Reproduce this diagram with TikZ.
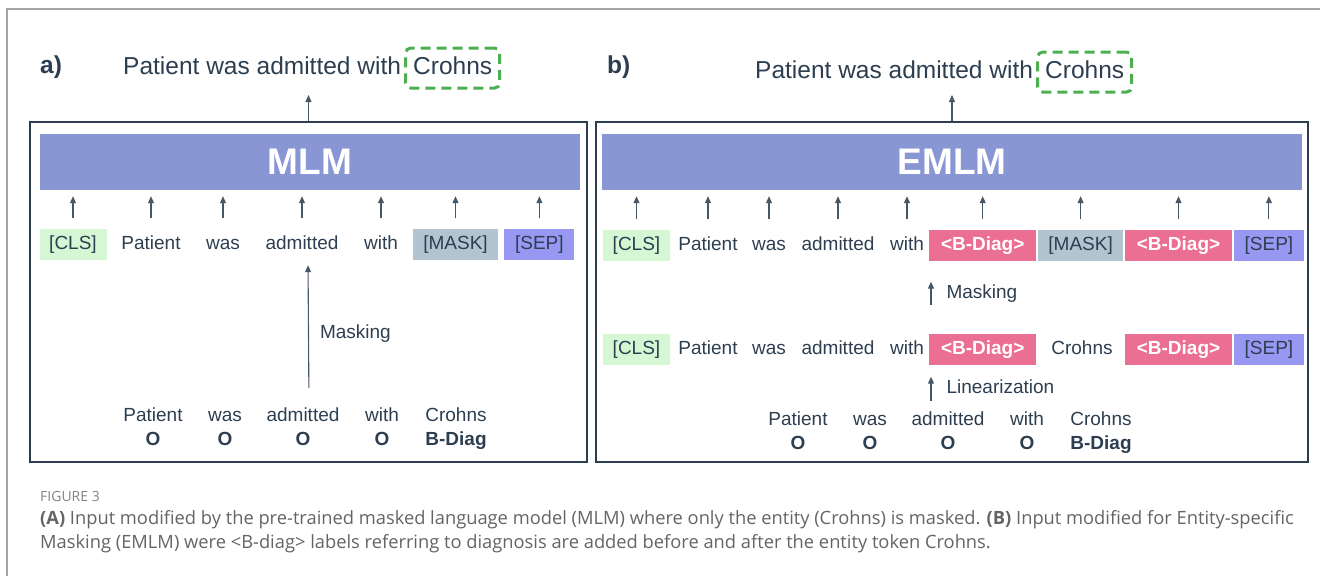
\documentclass[tikz,border=0pt]{standalone}
\usepackage{fontspec}
\setmainfont{Liberation Sans}
\newfontfamily\capfont{Open Sans}
\usetikzlibrary{positioning,arrows.meta}
\definecolor{inkdark}{RGB}{44,62,80}
\definecolor{arrowgray}{RGB}{70,88,104}
\definecolor{barblue}{RGB}{136,150,212}
\definecolor{clsgreen}{RGB}{214,247,212}
\definecolor{maskgray}{RGB}{178,196,208}
\definecolor{seppurple}{RGB}{152,152,242}
\definecolor{diagpink}{RGB}{235,110,147}
\definecolor{entgreen}{RGB}{76,175,80}
\definecolor{pagegray}{RGB}{165,165,165}
\definecolor{capgray}{RGB}{100,100,100}
\tikzset{
  word/.style={inner sep=0pt, text=inkdark, font=\fontsize{19}{23}\selectfont, text height=14pt, text depth=4pt},
  tok/.style={word, minimum height=31pt},
  tokbox/.style={tok, inner xsep=9pt},
  clsbox/.style={tokbox, fill=clsgreen, minimum width=67pt},
  maskbox/.style={tokbox, fill=maskgray, minimum width=85pt},
  sepbox/.style={tokbox, fill=seppurple, minimum width=70pt},
  diagbox/.style={tokbox, fill=diagpink, text=white, font=\fontsize{19}{23}\selectfont\bfseries, minimum width=107pt},
  tag/.style={word, font=\fontsize{19}{23}\selectfont\bfseries},
  bar/.style={fill=barblue, text=white, font=\fontsize{37}{40}\selectfont\bfseries, minimum height=56pt, inner sep=0pt},
  panel/.style={draw=inkdark, line width=1.5pt, minimum height=340pt, inner sep=0pt},
  headline/.style={inner sep=0pt, text=inkdark, font=\fontsize{24.5}{28}\selectfont, text height=17pt, text depth=5pt},
  panellabel/.style={headline, font=\fontsize{24.5}{28}\selectfont\bfseries, anchor=west},
  entity/.style={headline, draw=entgreen, line width=3pt, dash pattern=on 10pt off 6pt, rounded corners=5pt, inner xsep=7.5pt, minimum height=40pt},
  uparrow/.style={draw=arrowgray, line width=1.1pt, -{Triangle[length=7pt,width=6pt]}},
  feed/.style={uparrow, shorten <=10pt, shorten >=6pt},
  note/.style={word, anchor=west},
  capline/.style={inner sep=0pt, anchor=west, text=capgray, font=\capfont\fontsize{18.3}{22}\selectfont},
}

\begin{document}
\begin{tikzpicture}[x=1pt, y=-1pt]
  \useasboundingbox (0,0) rectangle (1320,576);
  \draw[pagegray, line width=2pt] (7,576) -- (7,9) -- (1320,9);

  % a) MLM
  \node[panel, minimum width=557pt] (panell) at (308.5,292) {};
  \node[bar, minimum width=540pt] (mlm) at (310,162) {MLM};
  \node[panellabel] (labl) at (40,67) {a)};
  \node[headline, anchor=west] (titlel) at (123,68) {Patient was admitted with};
  \node[entity, right=3pt of titlel] (entl) {Crohns};
  \coordinate (outl) at (308.5,95);
  \draw[uparrow] (panell.north) -- (outl);

  \node[clsbox] (clsl) at (73,244) {[CLS]};
  \node[tok] (patl) at (151,244) {Patient};
  \node[tok] (wasl) at (223,244) {was};
  \node[tok] (adml) at (302,244) {admitted};
  \node[tok] (withl) at (381,244) {with};
  \node[maskbox] (maskl) at (455.5,244) {[MASK]};
  \node[sepbox, right=6pt of maskl] (sepl) {[SEP]};

  \draw[feed] (clsl.north) -- (clsl.north |- mlm.south);
  \draw[feed] (patl.north) -- (patl.north |- mlm.south);
  \draw[feed] (wasl.north) -- (wasl.north |- mlm.south);
  \draw[feed] (adml.north) -- (adml.north |- mlm.south);
  \draw[feed] (withl.north) -- (withl.north |- mlm.south);
  \draw[feed] (maskl.north) -- (maskl.north |- mlm.south);
  \draw[feed] (sepl.north) -- (sepl.north |- mlm.south);

  \node[word] (srcpatl) at (153,416) {Patient};
  \node[word] (srcwasl) at (225,416) {was};
  \node[word] (srcadml) at (303,416) {admitted};
  \node[word] (srcwithl) at (382,416) {with};
  \node[word] (srccrol) at (456,416) {Crohns};
  \node[tag, below=6pt of srcpatl] (tpatl) {O};
  \node[tag, below=6pt of srcwasl] (twasl) {O};
  \node[tag, below=6pt of srcadml] (tadml) {O};
  \node[tag, below=6pt of srcwithl] (twithl) {O};
  \node[tag, below=6pt of srccrol] (tcrol) {B-Diag};

  \draw[uparrow, shorten <=19pt, shorten >=5.5pt] ([xshift=6pt]srcadml.north) -- ([xshift=6pt]adml.south)
    node[note, midway, right=11pt] {Masking};

  % b) EMLM
  \node[panel, minimum width=712pt] (panelr) at (952,292) {};
  \node[bar, minimum width=700pt] (emlm) at (952,162) {EMLM};
  \node[panellabel] (labr) at (607,67) {b)};
  \node[headline, anchor=west] (titler) at (755,72) {Patient was admitted with};
  \node[entity, right=3pt of titler] (entr) {Crohns};
  \coordinate (outr) at (952,95);
  \draw[uparrow] (panelr.north) -- (outr);

  \node[clsbox] (clsr) at (636.5,245) {[CLS]};
  \node[tok] (patr) at (708,245) {Patient};
  \node[tok] (wasr) at (769,245) {was};
  \node[tok] (admr) at (838,245) {admitted};
  \node[tok] (withr) at (907,245) {with};
  \node[diagbox, anchor=west] (bdar) at (929,245) {<B-Diag>};
  \node[maskbox, right=1.5pt of bdar] (maskr) {[MASK]};
  \node[diagbox, right=1.5pt of maskr] (bdbr) {<B-Diag>};
  \node[sepbox, right=1.5pt of bdbr] (sepr) {[SEP]};

  \draw[feed] (clsr.north) -- (clsr.north |- emlm.south);
  \draw[feed] (patr.north) -- (patr.north |- emlm.south);
  \draw[feed] (wasr.north) -- (wasr.north |- emlm.south);
  \draw[feed] (admr.north) -- (admr.north |- emlm.south);
  \draw[feed] (withr.north) -- (withr.north |- emlm.south);
  \draw[feed] (bdar.north) -- (bdar.north |- emlm.south);
  \draw[feed] (maskr.north) -- (maskr.north |- emlm.south);
  \draw[feed] (bdbr.north) -- (bdbr.north |- emlm.south);
  \draw[feed] (sepr.north) -- (sepr.north |- emlm.south);

  \node[clsbox] (lclsr) at (636.5,349) {[CLS]};
  \node[tok] (lpatr) at (patr |- lclsr) {Patient};
  \node[tok] (lwasr) at (wasr |- lclsr) {was};
  \node[tok] (ladmr) at (admr |- lclsr) {admitted};
  \node[tok] (lwithr) at (withr |- lclsr) {with};
  \node[diagbox] (lbdar) at (bdar |- lclsr) {<B-Diag>};
  \node[tok] (lcror) at (1082,349) {Crohns};
  \node[diagbox] (lbdbr) at (bdbr |- lclsr) {<B-Diag>};
  \node[sepbox] (lsepr) at (sepr |- lclsr) {[SEP]};

  \draw[uparrow, shorten <=28pt, shorten >=21pt] ([xshift=2pt]lbdar.north west) -- ([xshift=2pt]bdar.south west)
    node[note, pos=0.55, right=15pt] {Masking};

  \coordinate (linr) at (931,401);
  \draw[uparrow, shorten >=12pt] (linr) -- (linr |- lbdar.south)
    node[note, pos=0.35, right=15pt] {Linearization};

  \node[word] (srcpatr) at (798,420) {Patient};
  \node[word] (srcwasr) at (870,420) {was};
  \node[word] (srcadmr) at (948,420) {admitted};
  \node[word] (srcwithr) at (1027,420) {with};
  \node[word] (srccror) at (1101,420) {Crohns};
  \node[tag, below=6pt of srcpatr] (tpatr) {O};
  \node[tag, below=6pt of srcwasr] (twasr) {O};
  \node[tag, below=6pt of srcadmr] (tadmr) {O};
  \node[tag, below=6pt of srcwithr] (twithr) {O};
  \node[tag, below=6pt of srccror] (tcror) {B-Diag};

  % caption
  \node[capline, font=\capfont\fontsize{14}{16}\selectfont, text=capgray!80] (figno) at (40,496) {FIGURE 3};
  \node[capline] (capa) at (40,520) {\textbf{(A)} Input modified by the pre-trained masked language model (MLM) where only the entity (Crohns) is masked. \textbf{(B)} Input modified for Entity-specific};
  \node[capline] (capb) at (40,544) {Masking (EMLM) were <B-diag> labels referring to diagnosis are added before and after the entity token Crohns.};
\end{tikzpicture}
\end{document}
